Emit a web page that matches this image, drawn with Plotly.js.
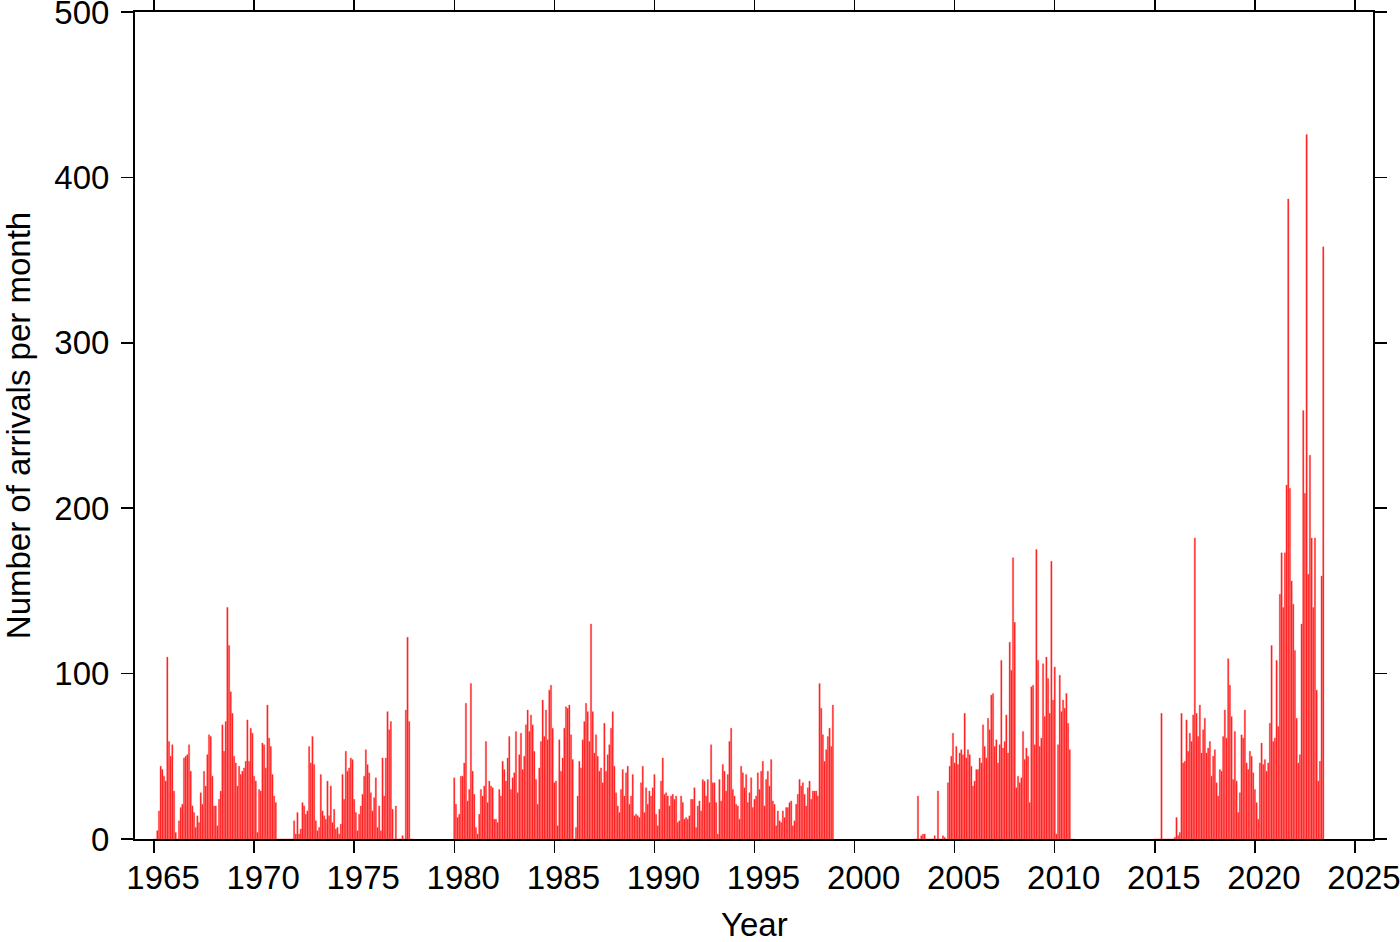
<!DOCTYPE html>
<html>
<head>
<meta charset="utf-8">
<script src="https://cdn.plot.ly/plotly-3.0.1.min.js"></script>
<style>
  html, body { margin: 0; padding: 0; background: #ffffff; }
  #chart { width: 1400px; height: 942px; }
</style>
</head>
<body>
<div id="chart"></div>
<script>
// Monthly arrival counts, each segment starts in January of its start year
const startYearA = 1965;
const arrivalsA = [
  0,0,5,17,44,42,38,35,110,59,50,57,        // 1965
  29,4,0,11,19,21,49,50,51,57,41,20,        // 1966
  16,7,14,10,28,21,41,32,51,63,62,38,       // 1967
  20,20,8,24,29,69,53,71,140,117,89,76,     // 1968
  50,46,32,44,39,41,43,47,72,47,67,64,      // 1969
  38,35,4,30,29,58,57,43,81,61,56,39,       // 1970
  26,22,0,0,0,0,0,0,0,0,0,0,                // 1971
  11,3,16,3,6,22,20,15,17,56,46,62,         // 1972
  45,11,5,7,39,17,14,12,35,14,32,10,        // 1973
  18,6,7,3,9,39,24,53,41,43,49,48,          // 1974
  24,16,5,15,20,27,38,54,45,40,28,17,       // 1975
  25,37,7,20,5,49,26,49,77,66,71,18,        // 1976
  0,20,0,0,0,2,0,78,122,71,0,0              // 1977
];

const startYearB = 1980;
const arrivalsB = [
  37,21,13,15,38,38,46,82,23,30,94,41,      // 1980
  27,7,3,15,30,26,32,59,22,35,32,31,        // 1981
  12,12,10,30,26,47,42,35,49,62,30,37,      // 1982
  40,65,28,51,64,42,50,69,78,65,75,69,      // 1983
  53,36,21,43,59,84,62,78,60,90,93,67,      // 1984
  34,35,8,60,41,49,67,80,79,81,63,48,       // 1985
  0,7,26,47,43,60,71,82,77,59,130,77,       // 1986
  52,63,50,41,43,34,70,41,51,57,67,77,      // 1987
  44,28,20,16,30,42,26,40,44,21,26,39,      // 1988
  14,15,14,13,34,44,16,31,21,29,26,31,      // 1989
  39,15,8,18,35,49,27,28,26,20,26,27,       // 1990
  24,26,10,11,26,22,12,13,12,14,24,24,      // 1991
  31,7,20,23,17,36,35,26,36,22,57,34,       // 1992
  34,22,3,36,23,45,41,29,39,59,67,30,       // 1993
  26,21,20,12,44,40,31,39,22,28,37,19,      // 1994
  24,26,40,30,41,47,20,36,41,32,48,23,      // 1995
  21,8,17,11,10,17,13,19,19,22,23,8,        // 1996
  11,21,27,36,32,34,27,20,31,35,24,29,      // 1997
  29,29,26,94,79,63,47,54,62,67,56,81       // 1998
];

const startYearC = 2003;
const arrivalsC = [
  0,0,26,0,2,3,3,0,0,0,0,0,                 // 2003
  2,0,29,0,0,2,1,0,34,44,50,64,             // 2004
  46,56,45,52,54,51,76,49,54,51,44,32,      // 2005
  35,42,42,49,46,69,56,49,73,66,87,88,      // 2006
  56,60,46,57,108,55,59,75,52,119,102,170,  // 2007
  131,31,38,34,37,65,48,55,50,22,92,93,     // 2008
  57,175,108,56,61,106,74,110,97,76,168,84, // 2009
  104,3,57,99,77,84,79,88,70,54,0,0         // 2010
];

const startYearD = 2015;
const arrivalsD = [
  0,0,0,0,76,0,0,0,0,0,0,0,                 // 2015
  1,13,2,4,76,46,47,72,53,64,59,75,         // 2016
  182,76,62,81,52,66,73,52,55,59,38,50,     // 2017
  54,34,26,42,41,62,78,61,109,93,74,36,     // 2018
  65,35,16,28,63,61,78,46,42,53,50,40,      // 2019
  30,22,12,46,58,45,48,41,46,70,117,59,     // 2020
  61,108,68,148,173,140,173,214,387,212,156,142, // 2021
  114,73,46,51,130,259,209,426,160,232,182,140,  // 2022
  182,90,35,47,159,358                      // 2023
];

const xTickYears = [1965,1970,1975,1980,1985,1990,1995,2000,2005,2010,2015,2020,2025];
const yTickValues = [0,100,200,300,400,500];
const xTitle = 'Year';
const yTitle = 'Number of arrivals per month';

const segments = [
  [startYearA, arrivalsA],
  [startYearB, arrivalsB],
  [startYearC, arrivalsC],
  [startYearD, arrivalsD]
];

const xs = [], ys = [];
segments.forEach(([start, vals]) => {
  vals.forEach((v, i) => { xs.push(start + i / 12); ys.push(v); });
});

const FONT = 'Liberation Sans, Arial, Helvetica, sans-serif';
const FS = 33;

const trace = {
  type: 'bar',
  x: xs,
  y: ys,
  width: 0.8 / 12,
  marker: { color: '#ff1010', line: { width: 0.4, color: '#ff6060' } },
  hoverinfo: 'x+y'
};

const layout = {
  width: 1400,
  height: 942,
  margin: { l: 135, r: 27, t: 12, b: 103 },
  paper_bgcolor: '#ffffff',
  plot_bgcolor: '#ffffff',
  showlegend: false,
  bargap: 0,
  font: { family: FONT, size: FS, color: '#000000' },
  xaxis: {
    range: [1964.05, 2025.9],
    tickvals: xTickYears,
    ticktext: xTickYears.map(String),
    ticks: 'outside',
    ticklen: 12,
    tickwidth: 1.5,
    tickcolor: '#000000',
    showline: true,
    linewidth: 2,
    linecolor: '#000000',
    mirror: 'allticks',
    showgrid: false,
    zeroline: false,
    automargin: false,
    ticklabelstandoff: -4,
    ticklabelshift: 9,
    ticklabeloverflow: 'allow',
    tickfont: { family: FONT, size: FS, color: '#000000' }
  },
  yaxis: {
    range: [0, 500],
    tickvals: yTickValues,
    ticktext: yTickValues.map(String),
    ticks: 'outside',
    ticklen: 12,
    tickwidth: 1.5,
    tickcolor: '#000000',
    showline: true,
    linewidth: 2,
    linecolor: '#000000',
    mirror: 'allticks',
    showgrid: false,
    zeroline: false,
    automargin: false,
    ticklabelstandoff: 5,
    ticklabeloverflow: 'allow',
    tickfont: { family: FONT, size: FS, color: '#000000' },
    title: { text: yTitle, font: { family: FONT, size: FS, color: '#000000' }, standoff: 16 }
  },
  annotations: [{
    text: xTitle,
    xref: 'paper', yref: 'paper',
    x: 0.5, y: 0,
    xanchor: 'center', yanchor: 'top',
    yshift: -65,
    showarrow: false,
    font: { family: FONT, size: FS, color: '#000000' }
  }]
};

Plotly.newPlot('chart', [trace], layout, { displayModeBar: false, staticPlot: true });
</script>
</body>
</html>
